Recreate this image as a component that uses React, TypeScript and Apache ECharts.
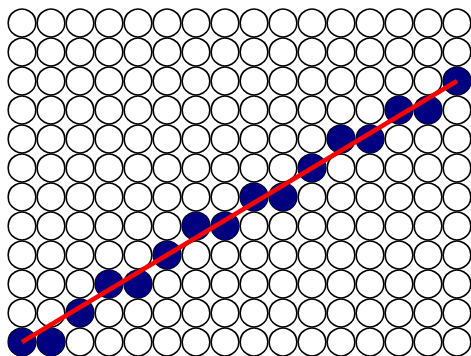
import React, { useEffect, useRef } from "react";
import * as echarts from "echarts";

// Pixel grid dimensions (columns x rows of pixel cells)
const columnCount = 16;
const rowCount = 12;
// Row (from bottom) of the lit pixel in each column
const litRows = [0, 0, 1, 2, 2, 3, 4, 4, 5, 5, 6, 7, 7, 8, 8, 9];
// Ideal line endpoints (column, row)
const lineStart = [0, 0];
const lineEnd = [15, 9];

export default function App() {
  const ref = useRef<HTMLDivElement>(null);
  useEffect(() => {
    if (!ref.current) return;
    const chart = echarts.init(ref.current, undefined, { renderer: "svg" });
    const cells: number[][] = [];
    for (let c = 0; c < columnCount; c++) {
      for (let r = 0; r < rowCount; r++) cells.push([c, r]);
    }
    const lit = litRows.map((r, c) => [c, r]);
    chart.setOption({
      animation: false,
      backgroundColor: "#ffffff",
      grid: { left: 22, right: 14, top: 23, bottom: 14 },
      xAxis: {
        type: "value",
        min: 0,
        max: columnCount - 1,
        show: false,
      },
      yAxis: {
        type: "value",
        min: 0,
        max: rowCount - 1,
        show: false,
      },
      series: [
        {
          type: "scatter",
          data: cells,
          symbol: "circle",
          symbolSize: 27.6,
          itemStyle: { color: "#ffffff", borderColor: "#000000", borderWidth: 1.6, opacity: 1 },
          silent: true,
          z: 1,
        },
        {
          type: "scatter",
          data: lit,
          symbol: "circle",
          symbolSize: 28,
          itemStyle: { color: "#000080", opacity: 1 },
          silent: true,
          z: 2,
        },
        {
          type: "line",
          data: [lineStart, lineEnd],
          showSymbol: false,
          lineStyle: { color: "#ff0000", width: 4.5 },
          silent: true,
          z: 3,
        },
      ],
    });
    return () => chart.dispose();
  }, []);
  return (
    <div
      ref={ref}
      style={{ position: "fixed", left: 0, top: 0, width: 471, height: 356 }}
    />
  );
}
